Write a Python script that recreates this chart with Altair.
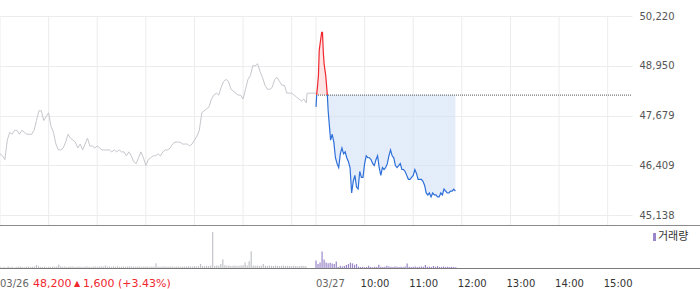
import altair as alt
import pandas as pd

# ---------------- data ----------------
PREV_CLOSE = 48200

# 03/26 : price every 3 minutes from 09:00 (minute 0) to 15:18 (minute 378)
day1_prices = [
    46700, 46650, 46550, 47050, 47250, 47200, 47300, 47300, 47200, 47300,
    47250, 47200, 47200, 47200, 47300, 47550, 47800, 47800, 47550, 47650,
    47750, 47400, 47250, 46950, 46800, 46800, 46850, 47000, 47200, 47100,
    47050, 47000, 46850, 46950, 46800, 46950, 47100, 46900, 46900, 46850,
    46900, 46850, 46800, 46800, 46800, 46800, 46750, 46800, 46750, 46800,
    46750, 46750, 46650, 46750, 46650, 46500, 46450, 46600, 46750, 46600,
    46400, 46550, 46600, 46650, 46650, 46700, 46650, 46750, 46800, 46800,
    46850, 46950, 47000, 47000, 47000, 46950, 46950, 46950, 46900, 46950,
    47050, 47150, 47300, 47750, 47800, 47850, 47900, 48100, 48200, 48250,
    48200, 48400, 48550, 48600, 48550, 48350, 48300, 48250, 48200, 48200,
    48100, 48350, 48600, 48700, 48950, 48950, 49000, 48800, 48650, 48450,
    48350, 48350, 48400, 48600, 48650, 48550, 48450, 48450, 48250, 48250,
    48250, 48200, 48150, 48100, 48050, 48100, 48000,
]
day1_step = 3
day1_tail_minutes = [379, 390]
day1_tail_prices = [48250, 48250]

# 03/27 : first 16 minutes (1-minute steps), then 2-minute steps from minute 16
day2_open_prices = [47900, 48250, 48450, 48700, 49350, 49500, 49650, 49800,
                    49800, 49300, 49000, 48850, 48700, 48450, 48200, 47800]
day2_session_prices = [
    47550, 47050, 47200, 47000, 46600, 46450, 46350, 46700, 46850, 46700,
    46750, 46600, 46500, 46350, 45700, 46000, 46150, 45850, 45800, 46250,
    46100, 46100, 46450, 46650, 46600, 46600, 46550, 46450, 46400, 46550,
    46650, 46350, 46150, 46350, 46300, 46350, 46450, 46650, 46800, 46650,
    46600, 46400, 46350, 46400, 46450, 46300, 46300, 46250, 46150, 46050,
    46050, 46100, 46150, 46300, 46200, 46050, 46050, 46050, 46000, 45900,
    45700, 45650, 45700, 45600, 45700, 45650, 45650, 45600, 45600, 45700,
    45650, 45800, 45750, 45700, 45700, 45750, 45750, 45800, 45750,
]
day2_session_start = 16
day2_session_step = 2

# volume, one bar per 2.5 minutes
vol_step = 2.5
day1_volume = [
    300, 150, 250, 100, 350, 200, 300, 150, 250, 300,
    350, 250, 200, 300, 400, 250, 300, 350, 750, 500,
    300, 250, 350, 200, 300, 250, 400, 300, 350, 900,
    450, 300, 350, 250, 300, 400, 350, 250, 300, 350,
    300, 250, 400, 350, 300, 250, 350, 400, 300, 350,
    450, 350, 600, 400, 350, 300, 400, 350, 450, 300,
    350, 400, 300, 350, 450, 400, 350, 300, 400, 350,
    300, 350, 400, 350, 300, 350, 300, 1200, 350, 300,
    350, 400, 350, 300, 400, 350, 300, 400, 350, 300,
    350, 400, 350, 450, 400, 350, 500, 400, 450, 1000,
    500, 450, 550, 500, 600, 9000, 500, 650, 550, 1000,
    2200, 700, 550, 600, 500, 550, 600, 500, 550, 600,
    700, 1400, 650, 1700, 4200, 600, 550, 650, 500, 600,
    1000, 550, 500, 600, 550, 500, 600, 550, 500, 550,
    600, 500, 550, 500, 450, 550, 500, 450, 500, 550,
    500, 450,
]
day2_volume = [
    1900, 1000, 1400, 4150, 2150, 1400, 1200, 1300, 1150, 1000,
    1650, 250, 550, 350, 500, 750, 1000, 1350, 1150, 800,
    1000, 350, 250, 300, 200, 250, 550, 250, 200, 300,
    250, 800, 300, 250, 300, 550, 350, 300, 250, 350,
    300, 250, 300, 250, 350, 1100, 300, 250, 300, 350,
    250, 300, 400, 300, 750, 300, 350, 250, 500, 300,
    500, 250, 300, 350, 250, 300, 250, 300, 250, 200,
]

price_ticks = [45138, 46409, 47679, 48950, 50220]
grid_minutes = [0, 60, 120, 180, 240, 300, 360, 390, 450, 510, 570, 630, 690, 750]
axis_tick_minutes = [0, 390, 450, 510, 570, 630, 690, 750]
date_minutes = [0, 390]
date_labels = ["03/26", "03/27"]
hour_minutes = [450, 510, 570, 630, 690, 750]
hour_labels = ["10:00", "11:00", "12:00", "13:00", "14:00", "15:00"]
DAY2_OFFSET = 390
TOTAL_MINUTES = 780

# ---------------- tables ----------------
d1_t = [i * day1_step for i in range(len(day1_prices))] + day1_tail_minutes
d1 = pd.DataFrame({"t": d1_t, "p": day1_prices + day1_tail_prices})

d2_t = [DAY2_OFFSET + i for i in range(len(day2_open_prices))] + \
       [DAY2_OFFSET + day2_session_start + i * day2_session_step for i in range(len(day2_session_prices))]
d2_p = day2_open_prices + day2_session_prices
d2 = pd.DataFrame({"t": d2_t, "p": d2_p})

vol = pd.DataFrame({
    "t": [i * vol_step for i in range(len(day1_volume))] +
         [DAY2_OFFSET + i * vol_step for i in range(len(day2_volume))],
    "v": day1_volume + day2_volume,
    "day": ["d1"] * len(day1_volume) + ["d2"] * len(day2_volume),
})

grid_df = pd.DataFrame({"t": grid_minutes})
base_df = pd.DataFrame({"t": [DAY2_OFFSET], "t2": [TOTAL_MINUTES], "p": [PREV_CLOSE]})
date_df = pd.DataFrame({"t": date_minutes, "label": date_labels})
hour_df = pd.DataFrame({"t": hour_minutes, "label": hour_labels})
one = pd.DataFrame({"a": [0]})

# ---------------- styles ----------------
RED = "#f0262e"
BLUE = "#2c6fd9"
GRID = "#ececec"
FONT = "DejaVu Sans"

pmax, pmin = max(d2_p), min(d2_p)
off = (pmax - PREV_CLOSE) / (pmax - pmin)

line_grad = alt.LinearGradient(
    gradient="linear", x1=0, x2=0, y1=0, y2=1,
    stops=[alt.GradientStop(color=RED, offset=0), alt.GradientStop(color=RED, offset=off),
           alt.GradientStop(color=BLUE, offset=off), alt.GradientStop(color=BLUE, offset=1)])
fill_grad = alt.LinearGradient(
    gradient="linear", x1=0, x2=0, y1=0, y2=1,
    stops=[alt.GradientStop(color="#ffd3d3", offset=0),
           alt.GradientStop(color="#ffd3d3", offset=off),
           alt.GradientStop(color="#d2e0f7", offset=off),
           alt.GradientStop(color="#d2e0f7", offset=1)])

xscale = alt.Scale(domain=[0, TOTAL_MINUTES], nice=False, zero=False)
pscale = alt.Scale(domain=[45138, 50220], range=[215, 16], nice=False, zero=False)
vscale = alt.Scale(domain=[0, 10000], range=[268, 228], nice=False, zero=False)

X_noaxis = alt.X("t:Q", scale=xscale, axis=None)

vgrid = alt.Chart(grid_df).mark_rule(color=GRID, strokeWidth=1).encode(
    x=alt.X("t:Q", scale=xscale, axis=alt.Axis(
        values=axis_tick_minutes, labels=False, ticks=True, tickSize=5,
        tickColor="#666666", domain=False, grid=False, title=None)),
    y=alt.value(16), y2=alt.value(225),
)

line1 = alt.Chart(d1).mark_line(color="#c6c7cd", strokeWidth=1).encode(
    x=X_noaxis,
    y=alt.Y("p:Q", scale=pscale, axis=alt.Axis(
        orient="right", values=price_ticks, labelExpr="format(datum.value, ',')",
        grid=True, gridColor=GRID,
        domain=False, ticks=False, labelPadding=7, labelFont=FONT, labelFontSize=10,
        labelColor="#555555", title=None)),
)

area2 = alt.Chart(d2).mark_area(fill=fill_grad, fillOpacity=0.6, interpolate="linear").encode(
    x=X_noaxis,
    y=alt.Y("p:Q", scale=pscale, axis=None),
    y2=alt.datum(PREV_CLOSE),
)

base_rule = alt.Chart(base_df).mark_rule(color="#555555", strokeDash=[1, 1], strokeWidth=1).encode(
    x=X_noaxis, x2="t2:Q",
    y=alt.Y("p:Q", scale=pscale, axis=None),
)

line2 = alt.Chart(d2).mark_line(stroke=line_grad, strokeWidth=1.2).encode(
    x=X_noaxis,
    y=alt.Y("p:Q", scale=pscale, axis=None),
)

vol_bars = alt.Chart(vol).mark_rule(strokeWidth=1.2).encode(
    x=X_noaxis,
    y=alt.Y("v:Q", scale=vscale, axis=None),
    y2=alt.datum(0),
    color=alt.Color("day:N", scale=alt.Scale(domain=["d1", "d2"], range=["#c2c3c9", "#9a86c8"]), legend=None),
)

sep1 = alt.Chart(one).mark_rule(color="#8a8a8a", strokeWidth=1).encode(
    x=alt.value(0), x2=alt.value(700), y=alt.value(225.5))
sep2 = alt.Chart(one).mark_rule(color="#7a7a7a", strokeWidth=1).encode(
    x=alt.value(0), x2=alt.value(700), y=alt.value(268.5))

date_text = alt.Chart(date_df).mark_text(
    align="left", baseline="alphabetic", font=FONT, fontSize=10, color="#666666").encode(
    x=X_noaxis, y=alt.value(287), text="label:N")
hour_text = alt.Chart(hour_df).mark_text(
    align="left", baseline="alphabetic", font=FONT, fontSize=10, color="#333333", dx=-4).encode(
    x=X_noaxis, y=alt.value(287), text="label:N")

ann1 = alt.Chart(one).mark_text(align="left", baseline="alphabetic", font=FONT, fontSize=11,
                                color=RED, text="48,200").encode(x=alt.value(33), y=alt.value(287))
ann2 = alt.Chart(one).mark_text(align="left", baseline="alphabetic", font=FONT, fontSize=8,
                                color=RED, text="▲").encode(x=alt.value(74), y=alt.value(286))
ann3 = alt.Chart(one).mark_text(align="left", baseline="alphabetic", font=FONT, fontSize=11,
                                color=RED, text="1,600 (+3.43%)").encode(x=alt.value(83), y=alt.value(287))

leg_sq = alt.Chart(one).mark_rect(color="#9a86c8").encode(
    x=alt.value(653), x2=alt.value(656), y=alt.value(233), y2=alt.value(241))
leg_txt = alt.Chart(one).mark_text(align="left", baseline="middle", font="Noto Sans CJK KR",
                                   fontSize=11, color="#333333", text="거래량").encode(
    x=alt.value(658), y=alt.value(237))

chart = alt.layer(
    vgrid, line1, area2, base_rule, line2, vol_bars, sep1, sep2,
    date_text, hour_text, ann1, ann2, ann3, leg_sq, leg_txt,
).resolve_scale(y="independent").properties(
    width=632, height=269,
    padding={"left": 0, "top": 0, "right": 68, "bottom": 20},
    autosize=alt.AutoSizeParams(type="none"),
).configure_view(strokeWidth=0)

chart.save("out.html", embed_options={"renderer": "svg", "actions": False})
